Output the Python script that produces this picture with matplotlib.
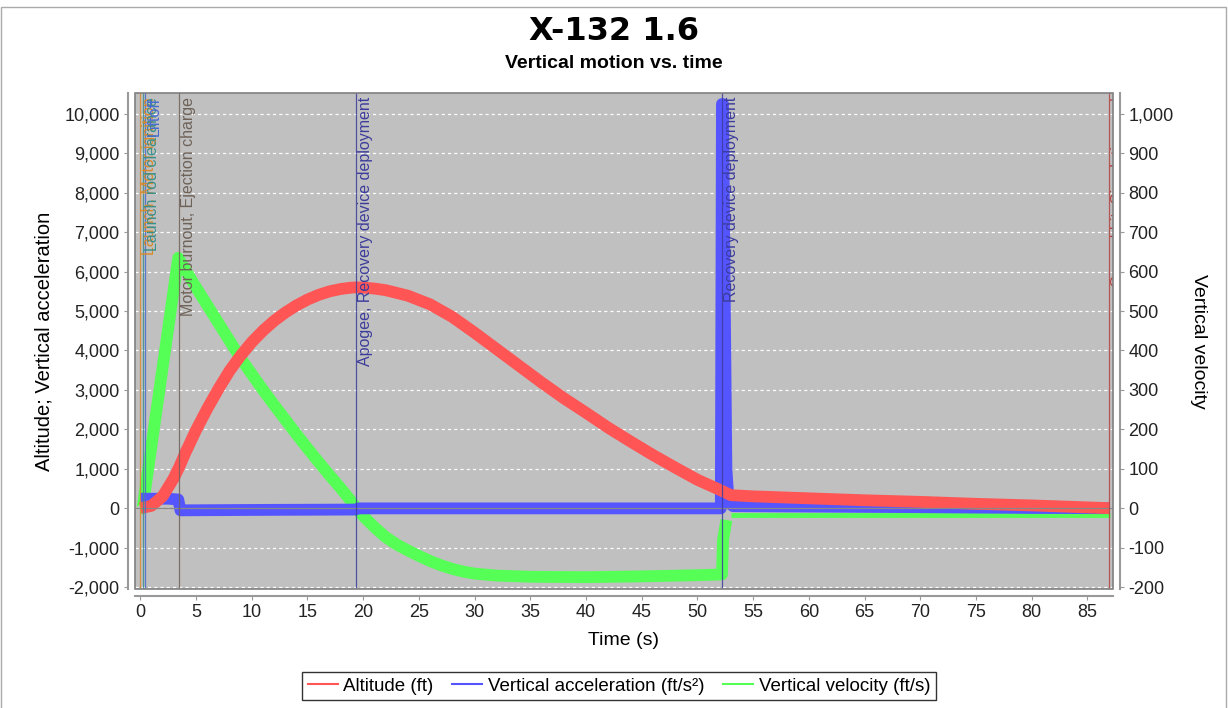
import numpy as np
import matplotlib
matplotlib.use("Agg")
import matplotlib.pyplot as plt
from matplotlib.lines import Line2D
from matplotlib.patches import Rectangle
from matplotlib.ticker import FuncFormatter, MultipleLocator

plt.rcParams['font.family'] = ['Liberation Sans', 'DejaVu Sans']

# altitude (ft) vs time (s)
alt_t = [0, 1, 2, 3, 3.5, 4, 5, 6, 7, 8, 9, 10, 11, 12, 13, 14, 15, 16, 17, 18, 19, 19.4,
         20, 21, 22, 24, 26, 28, 30, 32, 34, 36, 38, 40, 42, 44, 46, 48, 50, 52.2,
         53, 55, 60, 65, 70, 75, 80, 85, 87]
alt_ft = [0, 60, 300, 760, 1050, 1380, 1980, 2520, 3020, 3480, 3870, 4210, 4500, 4750, 4960, 5140,
          5290, 5410, 5500, 5560, 5595, 5600,
          5595, 5570, 5530, 5390, 5170, 4850, 4450, 4030, 3610, 3190, 2790, 2420, 2040, 1690,
          1350, 1030, 720, 440,
          330, 300, 250, 200, 160, 110, 70, 20, 0]

# vertical acceleration (ft/s^2)
acc_t = [0, 2.5, 3.4, 3.6, 10, 19.3, 19.6, 52.1, 52.2, 52.3, 52.45, 52.6, 52.8, 53.2, 60, 70, 80, 87]
acc = [240, 240, 220, -55, -45, -35, -5, -5, 10250, 10250, 5400, 1000, 150, 50, 40, 25, 5, 0]

# vertical velocity (ft/s)
vel_t = [0, 0.2, 3.4, 3.6, 5, 6, 7, 8, 9, 10, 11, 12, 13, 14, 15, 16, 17, 18, 19, 19.4, 20,
         21, 22, 23, 24, 25, 26, 27, 28, 29, 30, 32, 35, 40, 45, 50, 52.2,
         52.3, 52.6, 53, 60, 70, 80, 87]
vel = [0, 0, 635, 625, 560, 515, 470, 425, 380, 340, 300, 262, 225, 188, 152, 117, 83, 50, 15, 0, -20,
       -48, -73, -92, -107, -121, -134, -145, -154, -161, -166, -171, -174, -175, -173, -170, -168,
       -80, -30, -18, -18, -18, -18, -18]

# flight events
ev_t = [0, 0.2, 0.4, 3.45, 19.35, 52.2, 86.9]
ev_txt = ["Launch, Motor ignition", "Launch rod clearance", "Liftoff", "Motor burnout, Ejection charge",
          "Apogee, Recovery device deployment", "Recovery device deployment", "Ground hit, Simulation end"]
ev_col = ['#d88a2a', '#3a8f8a', '#4a6ad0', '#6e6258', '#3c3c9c', '#3c3c9c', '#b44444']

red = '#ff5555'
blue = '#5555ff'
green = '#55ff55'

fig = plt.figure(figsize=(12.28, 7.08), dpi=100)
ax = fig.add_axes([135/1228, 1-589/708, (1113-135)/1228, (589-93)/708])
ax2 = ax.twinx()

ax.set_zorder(2)
ax2.set_zorder(1)
ax.patch.set_visible(False)
ax2.patch.set_visible(True)
ax2.patch.set_facecolor('#c0c0c0')

ax.set_xlim(-0.48, 87.3)
ax.set_ylim(-2050, 10530)
ax2.set_ylim(-205, 1053)

# grid on the back axes
ax2.xaxis.set_major_locator(MultipleLocator(5))
ax2.yaxis.set_major_locator(MultipleLocator(100))
ax2.grid(True, color='white', ls=(0, (2.5, 2.5)), lw=0.9)
ax2.set_axisbelow(True)

# velocity split at deployment (thinner after)
vel_t = np.array(vel_t)
vel = np.array(vel)
pre = vel_t <= 52.6
ax2.plot(vel_t[pre], vel[pre], color=green, lw=8.5, solid_capstyle='butt', zorder=2)
ax2.plot(vel_t[~pre], vel[~pre], color=green, lw=3.5, solid_capstyle='butt', zorder=2)

ax.plot(acc_t, acc, color=blue, lw=8.5, solid_capstyle='butt', zorder=3)
ax.plot(alt_t, alt_ft, color=red, lw=8.5, solid_capstyle='butt', zorder=4)
ax.axhline(0, color='#888888', lw=0.9, zorder=5)

for t, txt, c in zip(ev_t, ev_txt, ev_col):
    ax.axvline(t, color=c, lw=0.9, alpha=0.85, zorder=6)
    a = ax.annotate(txt, xy=(t, 1), xycoords=('data', 'axes fraction'), xytext=(2, -4),
                    textcoords='offset pixels', rotation=90, ha='left', va='top',
                    color=c, fontsize=11.5, zorder=7, annotation_clip=False)
    a.set_clip_path(ax.patch)

ax.add_patch(Rectangle((0, 0), 1, 1, transform=ax.transAxes, fill=False,
                       ec='#808080', lw=1.2, zorder=10, clip_on=False))

fmt = FuncFormatter(lambda v, p: f"{int(v):,}")
ax.xaxis.set_major_locator(MultipleLocator(5))
ax.yaxis.set_major_locator(MultipleLocator(1000))
ax.yaxis.set_major_formatter(fmt)
ax2.yaxis.set_major_formatter(fmt)

for a in (ax, ax2):
    for s in a.spines.values():
        s.set_visible(False)
ax.spines['left'].set_visible(True)
ax.spines['bottom'].set_visible(True)
ax2.spines['right'].set_visible(True)
ax.spines['left'].set_position(('outward', 5))
ax.spines['bottom'].set_position(('outward', 5))
ax2.spines['right'].set_position(('outward', 5))
for s in (ax.spines['left'], ax.spines['bottom'], ax2.spines['right']):
    s.set_color('#999999')
    s.set_linewidth(1.5)

ax.tick_params(axis='both', direction='out', length=3, color='#999999', labelsize=13, labelcolor='#222222', pad=3)
ax2.tick_params(axis='y', direction='out', length=3, color='#999999', labelsize=13, labelcolor='#222222', pad=3)
ax2.tick_params(axis='x', bottom=False, labelbottom=False)

ax.set_xlabel("Time (s)", fontsize=14, labelpad=8)
ax.set_ylabel("Altitude; Vertical acceleration", fontsize=14.5, labelpad=8)
ax2.set_ylabel("Vertical velocity", fontsize=14, rotation=270, labelpad=24)

fig.text(0.5, 1-31/708, "X-132 1.6", ha='center', va='center', fontsize=23,
         fontweight='bold', family='DejaVu Sans')
fig.text(0.5, 1-64/708, "Vertical motion vs. time", ha='center', va='center',
         fontsize=14, fontweight='bold')

handles = [Line2D([], [], color=red, lw=1.5), Line2D([], [], color=blue, lw=1.5),
           Line2D([], [], color=green, lw=1.5)]
labels = ["Altitude (ft)", "Vertical acceleration (ft/s²)", "Vertical velocity (ft/s)"]
leg = fig.legend(handles, labels, loc='center', bbox_to_anchor=(619/1228, 1-686/708), ncol=3,
                 fontsize=13.5, frameon=True, fancybox=False, edgecolor='black',
                 handlelength=1.6, handletextpad=0.3, columnspacing=1.0, borderpad=0.3)
leg.get_frame().set_linewidth(1.0)

fig.add_artist(Rectangle((0.001, -0.01), 0.997, 1.0, transform=fig.transFigure, fill=False,
                         ec='#aaaaaa', lw=1))

fig.savefig("out.png", dpi=100)
